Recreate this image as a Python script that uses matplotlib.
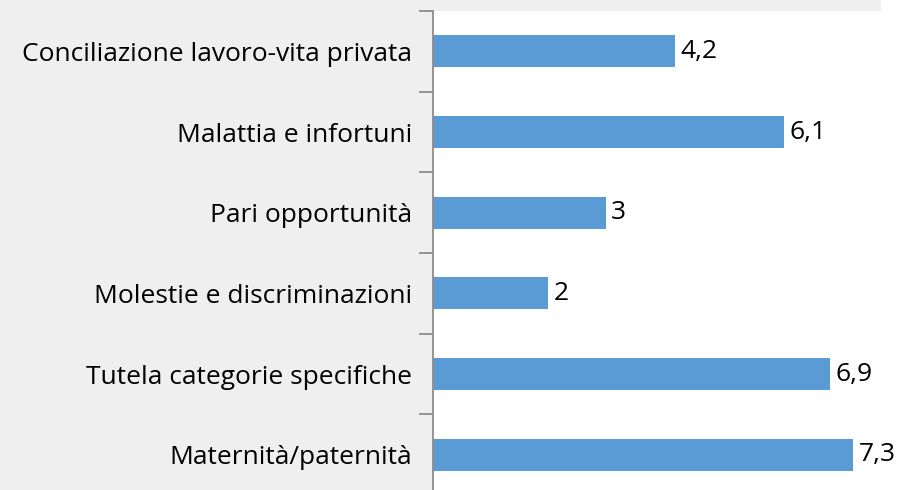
import matplotlib
matplotlib.use('Agg')
import numpy as np
from matplotlib import pyplot as plt
from matplotlib.patches import Rectangle

categorie = ['Conciliazione lavoro-vita privata', 'Malattia e infortuni', 'Pari opportunità',
             'Molestie e discriminazioni', 'Tutela categorie specifiche', 'Maternità/paternità']
valori = [4.2, 6.1, 3, 2, 6.9, 7.3]
etichette = ['4,2', '6,1', '3', '2', '6,9', '7,3']

plt.rcParams['font.family'] = ['Open Sans', 'DejaVu Sans']

W, H = 923, 490
fig = plt.figure(figsize=(W / 100, H / 100), dpi=100, facecolor='#efefef')
# striscia bianca in alto a destra (immagine ritagliata)
fig.patches.append(Rectangle((881 / W, 1 - 11 / H), 1 - 881 / W, 11 / H, transform=fig.transFigure,
                             facecolor='white', edgecolor='none', zorder=0))

# l'area del grafico esce un po' sotto il bordo inferiore
x0, x1, ytop, ybot = 433, 923, 11, 495
ax = fig.add_axes([x0 / W, 1 - ybot / H, (x1 - x0) / W, (ybot - ytop) / H])
ax.set_facecolor('white')

y = np.arange(len(categorie))
ax.barh(y, valori, height=0.4, color='#5b9bd5', zorder=2)
for yi, v, t in zip(y, valori, etichette):
    ax.text(v + 0.1, yi, t, va='center', ha='left', fontsize=19, color='black', clip_on=False)

ax.set_xlim(0, 8.52)
ax.set_ylim(len(categorie) - 0.5, -0.5)
ax.set_yticks(y)
ax.set_yticklabels(categorie, fontsize=19)
ax.tick_params(axis='y', which='major', length=0, pad=15)
ax.set_yticks(np.arange(len(categorie) + 1) - 0.5, minor=True)
ax.tick_params(axis='y', which='minor', length=10, width=1.3, color='#8c8c8c')
ax.set_xticks([])
for s in ['top', 'right', 'bottom']:
    ax.spines[s].set_visible(False)
ax.spines['left'].set_color('#8c8c8c')
ax.spines['left'].set_linewidth(1.3)

fig.savefig('out.png', dpi=100, facecolor=fig.get_facecolor())
